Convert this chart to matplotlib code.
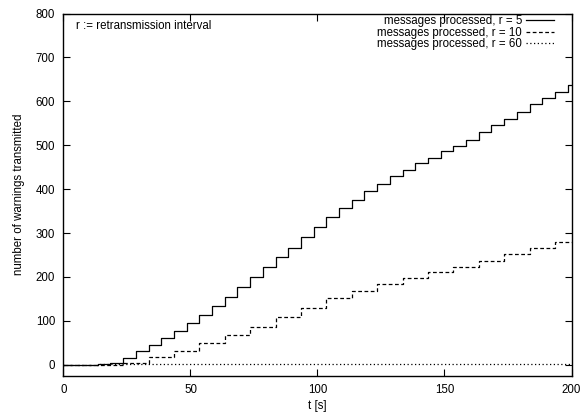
import matplotlib
matplotlib.use("Agg")
import matplotlib.pyplot as plt

plt.rcParams['font.family'] = ['Liberation Sans', 'DejaVu Sans']

# step times [s] and values after each step (warnings transmitted)
t_r5 = [0, 13.5, 18.5, 23.5, 28.5, 33.5, 38.5, 43.5, 48.5, 53.5, 58.5, 63.5, 68.5,
        73.5, 78.5, 83.5, 88.5, 93.5, 98.5, 103.5, 108.5, 113.5, 118.5, 123.5,
        128.5, 133.5, 138.5, 143.5, 148.5, 153.5, 158.5, 163.5, 168.5, 173.5,
        178.5, 183.5, 188.5, 193.5, 198.5, 200]
v_r5 = [0, 1.5, 5, 16, 31, 45, 61, 76, 94, 114, 134, 155, 176,
        199, 222, 245, 267, 290, 313, 336, 357, 376, 395, 412,
        429, 444, 459, 472, 486, 498, 511, 529, 545, 560,
        576, 593, 608, 622, 638, 638]

t_r10 = [0, 23.5, 33.5, 43.5, 53.5, 63.5, 73.5, 83.5, 93.5, 103.5, 113.5, 123.5,
         133.5, 143.5, 153.5, 163.5, 173.5, 183.5, 193.5, 200]
v_r10 = [0, 4, 18, 32, 49, 67, 87, 109, 129, 151, 168, 184,
         198, 211, 223, 237, 253, 267, 280, 280]

t_r60 = [0, 13.5, 200]
v_r60 = [0, 1, 1]

labels = ["messages processed, r = 5", "messages processed, r = 10",
          "messages processed, r = 60"]
x_ticks = [0, 50, 100, 150, 200]
y_ticks = [0, 100, 200, 300, 400, 500, 600, 700, 800]

FS = 8.3

fig = plt.figure(figsize=(5.84, 4.16), dpi=100)
ax = fig.add_axes([0.1087, 0.0969, 0.8699, 0.8706])

lw = 0.9
ax.step(t_r5, v_r5, where='post', color='black', lw=lw, label=labels[0])
ax.step(t_r10, v_r10, where='post', color='black', lw=lw,
        linestyle=(0, (3, 2)), label=labels[1])
ax.step(t_r60, v_r60, where='post', color='black', lw=lw,
        linestyle=(0, (1, 2)), label=labels[2])

ax.set_xlim(0, 200)
ax.set_ylim(-25, 800)
ax.set_xticks(x_ticks)
ax.set_yticks(y_ticks)
ax.tick_params(direction='in', length=5, width=0.8, labelsize=FS,
               top=True, right=True, pad=6)
for s in ax.spines.values():
    s.set_linewidth(1.0)

ax.set_xlabel("t [s]", fontsize=FS, labelpad=3)
ax.set_ylabel("number of warnings transmitted", fontsize=FS, labelpad=8)

ax.text(0.024, 0.965, "r := retransmission interval", transform=ax.transAxes,
        fontsize=FS, va='center', ha='left')

ax.legend(loc='upper right', frameon=False, markerfirst=False, fontsize=FS,
          handlelength=2.43, labelspacing=-0.03, handletextpad=0.35,
          borderaxespad=0.3, bbox_to_anchor=(0.982, 1.018))

fig.savefig("out.png", dpi=100)
